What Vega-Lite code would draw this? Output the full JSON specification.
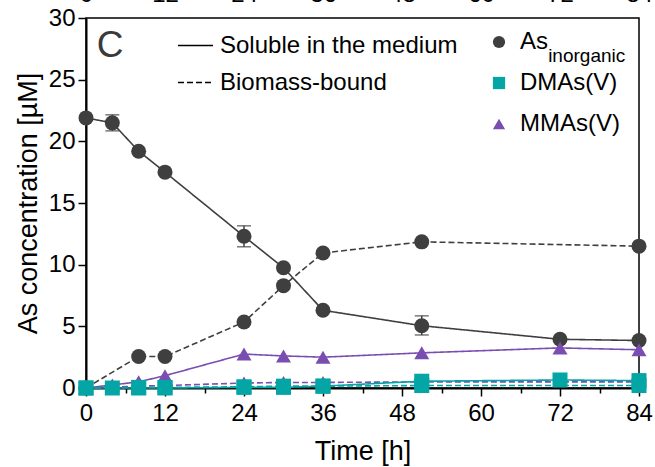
{
  "$schema": "https://vega.github.io/schema/vega-lite/v6.json",
  "width": 553,
  "height": 370,
  "autosize": {"type": "none"},
  "padding": {"left": 86, "top": 18, "right": 16, "bottom": 79},
  "background": "white",
  "config": {
    "font": "Liberation Sans",
    "view": {"stroke": "black", "strokeWidth": 1.5},
    "axis": {
      "domainColor": "black", "domainWidth": 2, "tickColor": "black", "tickWidth": 1.5,
      "labelColor": "black", "titleColor": "black", "labelFontSize": 24, "titleFontSize": 27,
      "titleFontWeight": "normal", "grid": false, "labelFont": "Liberation Sans", "titleFont": "Liberation Sans"
    },
    "legend": {"labelFont": "Liberation Sans", "labelColor": "black", "labelFontSize": 24, "labelLimit": 0}
  },
  "datasets": {
    "series": [
      {"t": 0, "species": "As", "fraction": "Soluble in the medium", "v": 21.9},
      {"t": 4, "species": "As", "fraction": "Soluble in the medium", "v": 21.5},
      {"t": 8, "species": "As", "fraction": "Soluble in the medium", "v": 19.2},
      {"t": 12, "species": "As", "fraction": "Soluble in the medium", "v": 17.5},
      {"t": 24, "species": "As", "fraction": "Soluble in the medium", "v": 12.3},
      {"t": 30, "species": "As", "fraction": "Soluble in the medium", "v": 9.75},
      {"t": 36, "species": "As", "fraction": "Soluble in the medium", "v": 6.3},
      {"t": 51, "species": "As", "fraction": "Soluble in the medium", "v": 5.05},
      {"t": 72, "species": "As", "fraction": "Soluble in the medium", "v": 3.95},
      {"t": 84, "species": "As", "fraction": "Soluble in the medium", "v": 3.85},
      {"t": 0, "species": "As", "fraction": "Biomass-bound", "v": 0},
      {"t": 8, "species": "As", "fraction": "Biomass-bound", "v": 2.55},
      {"t": 12, "species": "As", "fraction": "Biomass-bound", "v": 2.55},
      {"t": 24, "species": "As", "fraction": "Biomass-bound", "v": 5.35},
      {"t": 30, "species": "As", "fraction": "Biomass-bound", "v": 8.3},
      {"t": 36, "species": "As", "fraction": "Biomass-bound", "v": 10.95},
      {"t": 51, "species": "As", "fraction": "Biomass-bound", "v": 11.85},
      {"t": 84, "species": "As", "fraction": "Biomass-bound", "v": 11.5},
      {"t": 0, "species": "MMAs(V)", "fraction": "Soluble in the medium", "v": 0},
      {"t": 4, "species": "MMAs(V)", "fraction": "Soluble in the medium", "v": 0.25},
      {"t": 8, "species": "MMAs(V)", "fraction": "Soluble in the medium", "v": 0.5},
      {"t": 12, "species": "MMAs(V)", "fraction": "Soluble in the medium", "v": 1.0},
      {"t": 24, "species": "MMAs(V)", "fraction": "Soluble in the medium", "v": 2.75},
      {"t": 30, "species": "MMAs(V)", "fraction": "Soluble in the medium", "v": 2.6},
      {"t": 36, "species": "MMAs(V)", "fraction": "Soluble in the medium", "v": 2.5},
      {"t": 51, "species": "MMAs(V)", "fraction": "Soluble in the medium", "v": 2.85},
      {"t": 72, "species": "MMAs(V)", "fraction": "Soluble in the medium", "v": 3.25},
      {"t": 84, "species": "MMAs(V)", "fraction": "Soluble in the medium", "v": 3.1},
      {"t": 0, "species": "MMAs(V)", "fraction": "Biomass-bound", "v": 0},
      {"t": 8, "species": "MMAs(V)", "fraction": "Biomass-bound", "v": 0.15},
      {"t": 12, "species": "MMAs(V)", "fraction": "Biomass-bound", "v": 0.2},
      {"t": 24, "species": "MMAs(V)", "fraction": "Biomass-bound", "v": 0.4},
      {"t": 30, "species": "MMAs(V)", "fraction": "Biomass-bound", "v": 0.45},
      {"t": 36, "species": "MMAs(V)", "fraction": "Biomass-bound", "v": 0.45},
      {"t": 51, "species": "MMAs(V)", "fraction": "Biomass-bound", "v": 0.5},
      {"t": 84, "species": "MMAs(V)", "fraction": "Biomass-bound", "v": 0.5},
      {"t": 0, "species": "DMAs(V)", "fraction": "Soluble in the medium", "v": 0},
      {"t": 4, "species": "DMAs(V)", "fraction": "Soluble in the medium", "v": 0},
      {"t": 8, "species": "DMAs(V)", "fraction": "Soluble in the medium", "v": 0},
      {"t": 12, "species": "DMAs(V)", "fraction": "Soluble in the medium", "v": 0},
      {"t": 24, "species": "DMAs(V)", "fraction": "Soluble in the medium", "v": 0.05},
      {"t": 30, "species": "DMAs(V)", "fraction": "Soluble in the medium", "v": 0.05},
      {"t": 36, "species": "DMAs(V)", "fraction": "Soluble in the medium", "v": 0.15},
      {"t": 51, "species": "DMAs(V)", "fraction": "Soluble in the medium", "v": 0.55},
      {"t": 72, "species": "DMAs(V)", "fraction": "Soluble in the medium", "v": 0.65},
      {"t": 84, "species": "DMAs(V)", "fraction": "Soluble in the medium", "v": 0.6},
      {"t": 0, "species": "DMAs(V)", "fraction": "Biomass-bound", "v": 0},
      {"t": 8, "species": "DMAs(V)", "fraction": "Biomass-bound", "v": 0.05},
      {"t": 12, "species": "DMAs(V)", "fraction": "Biomass-bound", "v": 0.05},
      {"t": 24, "species": "DMAs(V)", "fraction": "Biomass-bound", "v": 0.1},
      {"t": 30, "species": "DMAs(V)", "fraction": "Biomass-bound", "v": 0.15},
      {"t": 36, "species": "DMAs(V)", "fraction": "Biomass-bound", "v": 0.15},
      {"t": 51, "species": "DMAs(V)", "fraction": "Biomass-bound", "v": 0.2},
      {"t": 84, "species": "DMAs(V)", "fraction": "Biomass-bound", "v": 0.2}
    ],
    "errs": [
      {"t": 4, "lo": 20.85, "hi": 22.15},
      {"t": 24, "lo": 11.45, "hi": 13.15},
      {"t": 51, "lo": 4.3, "hi": 5.85}
    ]
  },
  "resolve": {"axis": {"x": "independent"}},
  "layer": [
    {
      "data": {"name": "series"},
      "mark": {"type": "line", "strokeWidth": 1.6},
      "encoding": {
        "x": {"field": "t", "type": "quantitative", "scale": {"domain": [0, 84], "nice": false, "zero": false},
          "title": "Time [h]",
          "axis": {"values": [0, 6, 12, 18, 24, 30, 36, 42, 48, 54, 60, 66, 72, 78, 84],
            "labelExpr": "datum.value % 12 === 0 ? datum.label : ''", "labelOverlap": false,
            "tickSize": {"condition": {"test": "datum.value % 12 === 0", "value": 8}, "value": 5},
            "labelPadding": 5, "titlePadding": 13, "labelFlush": false}},
        "y": {"field": "v", "type": "quantitative", "scale": {"domain": [0, 30], "nice": false},
          "title": "As concentration [µM]",
          "axis": {"values": [0, 5, 10, 15, 20, 25, 30], "tickSize": 8, "labelPadding": 3, "titlePadding": 6, "labelFlush": false}},
        "color": {"field": "species", "type": "nominal",
          "scale": {"domain": ["As", "DMAs(V)", "MMAs(V)"], "range": ["#3f3f3f", "#04a5a5", "#7a4db0"]},
          "legend": {"title": null, "orient": "none", "legendX": 401, "legendY": 12, "symbolSize": 150,
            "labelOffset": 9, "rowPadding": 17, "symbolStrokeWidth": 0}},
        "strokeDash": {"field": "fraction", "type": "nominal",
          "scale": {"domain": ["Soluble in the medium", "Biomass-bound"], "range": [[1, 0], [6, 3]]},
          "legend": {"title": null, "orient": "none", "legendX": 91, "legendY": 9, "symbolType": "stroke",
            "symbolSize": 1225, "symbolStrokeColor": "black", "symbolStrokeWidth": 1.5,
            "labelOffset": 6, "rowPadding": 6}},
        "detail": {"field": "fraction"}
      }
    },
    {
      "data": {"name": "errs"},
      "mark": {"type": "errorbar", "ticks": {"size": 14, "color": "#3f3f3f", "thickness": 1.5}, "color": "#3f3f3f", "thickness": 1.5},
      "encoding": {
        "x": {"field": "t", "type": "quantitative", "title": "",
          "axis": {"orient": "top", "values": [0, 12, 24, 36, 48, 60, 72, 84], "domain": false, "ticks": false,
            "labelPadding": 12, "labelFlush": false, "labelOverlap": false}},
        "y": {"field": "lo", "type": "quantitative", "title": "As concentration [µM]"},
        "y2": {"field": "hi"}
      }
    },
    {
      "data": {"name": "series"},
      "mark": {"type": "point", "filled": true, "opacity": 1, "size": 225, "strokeWidth": 0},
      "encoding": {
        "x": {"field": "t", "type": "quantitative", "axis": null},
        "y": {"field": "v", "type": "quantitative", "title": "As concentration [µM]"},
        "color": {"field": "species", "type": "nominal"},
        "shape": {"field": "species", "type": "nominal",
          "scale": {"domain": ["As", "DMAs(V)", "MMAs(V)"], "range": ["circle", "square", "triangle-up"]},
          "legend": {"title": null, "orient": "none", "legendX": 401, "legendY": 12, "symbolSize": 150,
            "labelOffset": 9, "rowPadding": 17, "symbolStrokeWidth": 0}}
      }
    },
    {
      "data": {"values": [{"label": "inorganic"}]},
      "mark": {"type": "text", "fontSize": 19, "align": "left", "baseline": "alphabetic", "color": "black"},
      "encoding": {
        "x": {"datum": 70.2, "type": "quantitative", "axis": null},
        "y": {"datum": 26.43, "type": "quantitative"},
        "text": {"field": "label"}
      }
    },
    {
      "data": {"values": [{"label": "C"}]},
      "mark": {"type": "text", "fontSize": 37, "align": "center", "baseline": "middle", "color": "#3a3a3a"},
      "encoding": {
        "x": {"datum": 3.65, "type": "quantitative", "axis": null},
        "y": {"datum": 27.69, "type": "quantitative"},
        "text": {"field": "label"}
      }
    }
  ]
}
